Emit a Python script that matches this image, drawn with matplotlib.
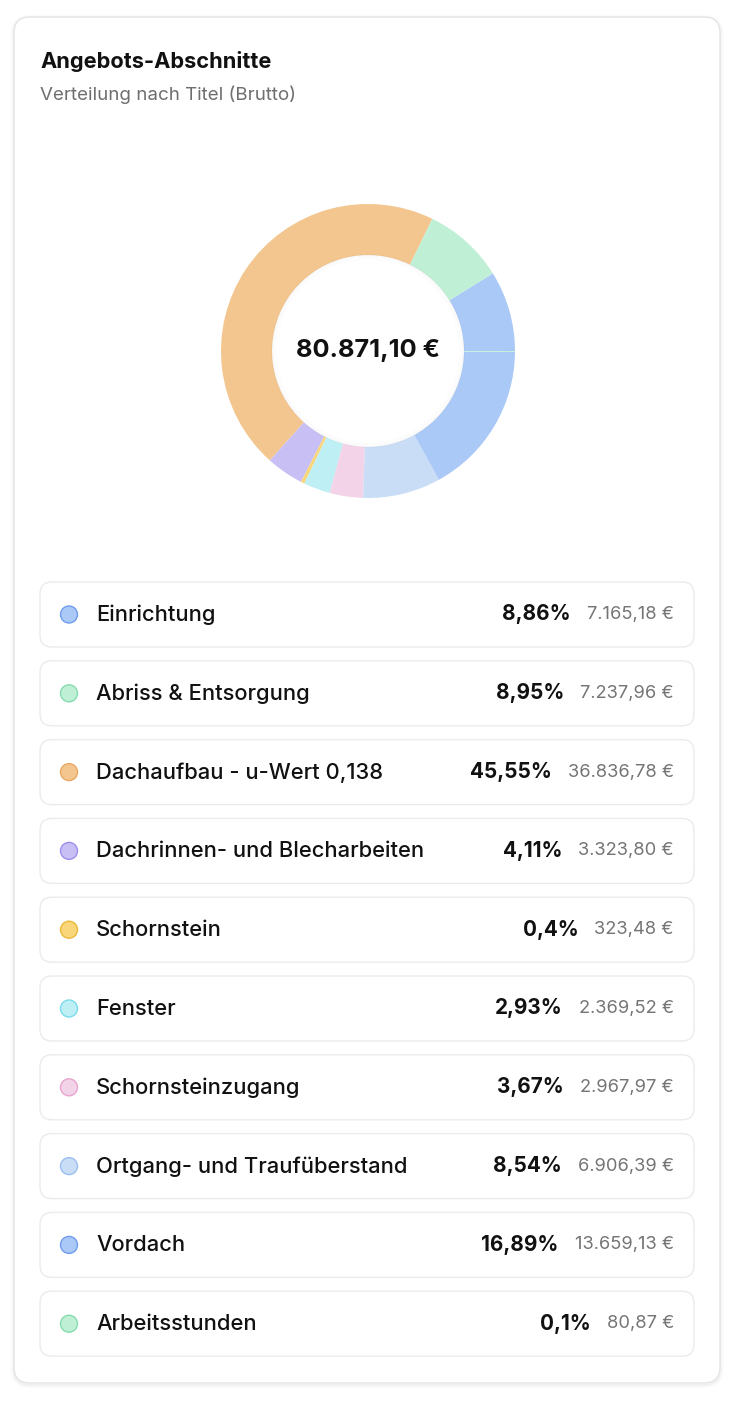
import matplotlib.pyplot as plt
from matplotlib.patches import FancyBboxPatch, Circle

# section names and gross amounts (EUR)
names = ["Einrichtung", "Abriss & Entsorgung", "Dachaufbau - u-Wert 0,138",
         "Dachrinnen- und Blecharbeiten", "Schornstein", "Fenster",
         "Schornsteinzugang", "Ortgang- und Traufüberstand", "Vordach",
         "Arbeitsstunden"]
amounts = [7165.18, 7237.96, 36836.78, 3323.80, 323.48, 2369.52,
           2967.97, 6906.39, 13659.13, 80.87]
total = 80871.10
fills = ["#abc9f6", "#bff0d6", "#f3c690", "#c8bff5", "#f9d67a", "#bdeff5",
         "#f3d3e8", "#c9ddf7", "#abc9f6", "#bff0d6"]
edges = ["#6f9cef", "#86dcae", "#eba863", "#9f8ef0", "#eab93a", "#79dcea",
         "#e9a5cf", "#9dbff0", "#6f9cef", "#86dcae"]


def eur(v):
    s = f"{v:,.2f}".replace(",", "X").replace(".", ",").replace("X", ".")
    return s + " €"


def pct(v):
    p = f"{v / total * 100:.2f}".rstrip("0").rstrip(".")
    return p.replace(".", ",") + "%"


plt.rcParams['font.family'] = ['Inter', 'DejaVu Sans']

W, H = 734, 1402
fig = plt.figure(figsize=(W / 100, H / 100), dpi=100)
fig.patch.set_facecolor("white")
ax = fig.add_axes([0, 0, 1, 1])
ax.set_xlim(0, W)
ax.set_ylim(H, 0)
ax.axis("off")

# card with soft shadow
for i, a in enumerate([0.05, 0.035, 0.02, 0.01]):
    ax.add_patch(FancyBboxPatch((14 - i, 17 + 1.5 - i), 706 + 2 * i, 1366 + 2 * i,
                                boxstyle="round,pad=0,rounding_size=%d" % (16 + i),
                                fc="none", ec="black", lw=1.0, alpha=a))
ax.add_patch(FancyBboxPatch((14, 17), 706, 1366,
                            boxstyle="round,pad=0,rounding_size=16",
                            fc="white", ec="#e4e4e4", lw=1.0))

ax.text(40, 61, "Angebots-Abschnitte", fontsize=15.7, fontweight="bold",
        color="#111111", va="center", ha="left")
ax.text(40, 95, "Verteilung nach Titel (Brutto)", fontsize=13.5,
        color="#6e6e6e", va="center", ha="left")

# list rows
row_top, row_step, row_h = 582, 78.8, 65
fig.canvas.draw()
r = fig.canvas.get_renderer()
for i, name in enumerate(names):
    y0 = row_top + i * row_step
    yc = y0 + row_h / 2
    ax.add_patch(FancyBboxPatch((40, y0), 654, row_h,
                                boxstyle="round,pad=0,rounding_size=12",
                                fc="white", ec="#ebebeb", lw=1.0))
    ax.add_patch(Circle((69, yc), 8.5, fc=fills[i], ec=edges[i], lw=1.0))
    ax.text(96, yc + 0.5, name, fontsize=15.8, fontweight=500, color="#111111",
            va="center", ha="left")
    t = ax.text(674, yc, eur(amounts[i]), fontsize=13.2, color="#757575",
                va="center", ha="right")
    bb = t.get_window_extent(renderer=r)
    xl, _ = ax.transData.inverted().transform((bb.x0 - 16, 0))
    ax.text(xl, yc, pct(amounts[i]), fontsize=14.9, fontweight="bold",
            color="#111111", va="center", ha="right")

# donut
cx, cy, R = 368, 351, 147
pax = fig.add_axes([(cx - R) / W, 1 - (cy + R) / H, 2 * R / W, 2 * R / H])
pax.pie(amounts, colors=fills, startangle=0, counterclock=True,
        wedgeprops=dict(width=0.347, linewidth=0))
for k, a in enumerate([0.03, 0.02, 0.012, 0.006]):
    pax.add_patch(Circle((0, 0), 0.653 - k * 0.01, fc="none", ec="black",
                         lw=1.0, alpha=a))
pax.set_xlim(-1, 1)
pax.set_ylim(-1, 1)
pax.set_aspect("equal")
pax.text(0, 0, eur(total), fontsize=18.3, fontweight="bold", color="#111111",
         ha="center", va="center")

fig.savefig("out.png", dpi=100)
